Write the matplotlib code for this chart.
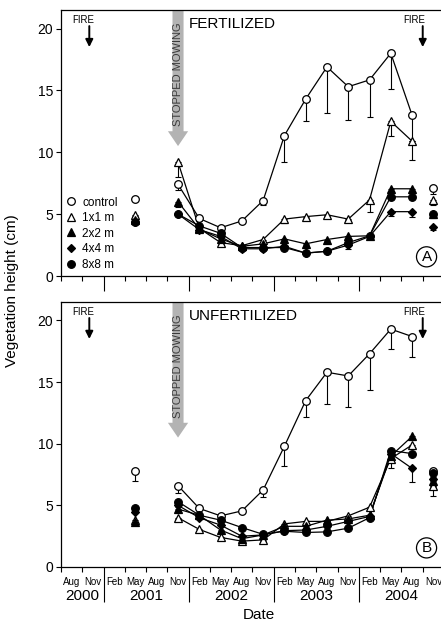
import matplotlib
matplotlib.use('Agg')
import matplotlib.pyplot as plt
import numpy as np
from matplotlib.lines import Line2D

plt.rcParams['font.family'] = ['Liberation Sans', 'DejaVu Sans']

# sampling dates (quarterly)
sample_dates = ['May 2001', 'Nov 2001', 'Feb 2002', 'May 2002', 'Aug 2002',
                'Nov 2002', 'Feb 2003', 'May 2003', 'Aug 2003', 'Nov 2003',
                'Feb 2004', 'May 2004', 'Aug 2004', 'Nov 2004']
axis_months = ['Aug', 'Nov'] + ['Feb', 'May', 'Aug', 'Nov'] * 4
axis_years = ['2000', '2001', '2002', '2003', '2004']

treatments = ['control', '1x1 m', '2x2 m', '4x4 m', '8x8 m']

# fertilized plots: mean height and lower error
fert_control = [6.25, 7.4, 4.65, 3.9, 4.45, 6.1, 11.35, 14.3, 16.9, 15.3, 15.85, 18.0, 13.0, 7.15]
fert_1x1 = [4.95, 9.2, 3.85, 2.7, 2.45, 2.95, 4.6, 4.8, 4.95, 4.6, 6.15, 12.5, 10.9, 6.15]
fert_2x2 = [4.5, 6.0, 3.8, 3.0, 2.4, 2.6, 3.0, 2.6, 2.95, 3.2, 3.25, 7.05, 7.05, 5.0]
fert_4x4 = [4.4, 5.0, 3.75, 3.2, 2.2, 2.2, 2.4, 1.85, 2.0, 2.5, 3.2, 5.2, 5.2, 4.0]
fert_8x8 = [4.35, 5.0, 4.05, 3.45, 2.3, 2.3, 2.3, 1.85, 2.0, 2.7, 3.25, 6.4, 6.4, 5.05]
fert_control_err = [0.1, 0.45, 0.2, 0.2, 0.15, 0.35, 2.1, 1.8, 3.7, 2.7, 3.0, 2.9, 2.1, 0.5]
fert_1x1_err = [0.1, 1.2, 0.2, 0.1, 0.1, 0.2, 0.35, 0.1, 0.1, 0.1, 1.0, 1.2, 1.5, 0.4]
fert_2x2_err = [0.1, 0.4, 0.2, 0.1, 0.1, 0.1, 0.1, 0.1, 0.1, 0.1, 0.1, 0.2, 0.2, 0.3]
fert_4x4_err = [0.1, 0.1, 0.2, 0.1, 0.1, 0.1, 0.1, 0.1, 0.1, 0.3, 0.1, 0.35, 0.4, 0.3]
fert_8x8_err = [0.1, 0.1, 0.1, 0.1, 0.1, 0.1, 0.1, 0.1, 0.1, 0.1, 0.1, 0.2, 0.2, 0.2]

# unfertilized plots
unfert_control = [7.8, 6.6, 4.75, 4.15, 4.55, 6.25, 9.8, 13.5, 15.8, 15.5, 17.3, 19.3, 18.7, 7.8]
unfert_1x1 = [3.8, 4.0, 3.05, 2.4, 2.1, 2.2, 3.5, 3.7, 3.7, 4.15, 4.85, 8.8, 9.9, 6.6]
unfert_2x2 = [3.65, 4.7, 4.2, 3.0, 2.3, 2.6, 3.3, 3.3, 3.8, 3.9, 4.2, 9.0, 10.6, 7.0]
unfert_4x4 = [4.5, 5.0, 4.0, 3.4, 2.5, 2.6, 2.95, 3.0, 3.3, 3.7, 4.1, 9.2, 8.0, 7.1]
unfert_8x8 = [4.75, 5.3, 4.2, 3.8, 3.2, 2.65, 2.9, 2.8, 2.85, 3.15, 4.0, 9.45, 9.2, 7.6]
unfert_control_err = [0.8, 0.6, 0.15, 0.1, 0.2, 0.55, 1.6, 1.3, 2.6, 2.5, 2.9, 1.6, 1.7, 0.3]
unfert_1x1_err = [0.2, 0.1, 0.2, 0.1, 0.1, 0.1, 0.1, 0.1, 0.1, 0.1, 0.2, 0.8, 0.3, 0.8]
unfert_2x2_err = [0.1, 0.1, 0.1, 0.1, 0.1, 0.1, 0.1, 0.1, 0.1, 0.1, 0.1, 0.3, 0.2, 0.4]
unfert_4x4_err = [0.1, 0.1, 0.1, 0.1, 0.1, 0.1, 0.1, 0.1, 0.1, 0.1, 0.1, 0.3, 1.1, 0.6]
unfert_8x8_err = [0.1, 0.1, 0.1, 0.1, 0.1, 0.1, 0.1, 0.1, 0.1, 0.1, 0.1, 0.2, 0.2, 0.3]

fert = [fert_control, fert_1x1, fert_2x2, fert_4x4, fert_8x8]
fert_err = [fert_control_err, fert_1x1_err, fert_2x2_err, fert_4x4_err, fert_8x8_err]
unfert = [unfert_control, unfert_1x1, unfert_2x2, unfert_4x4, unfert_8x8]
unfert_err = [unfert_control_err, unfert_1x1_err, unfert_2x2_err, unfert_4x4_err, unfert_8x8_err]

styles = [
    dict(marker='o', mfc='white', ms=5.5),
    dict(marker='^', mfc='white', ms=5.5),
    dict(marker='^', mfc='black', ms=5.5),
    dict(marker='D', mfc='black', ms=4.5),
    dict(marker='o', mfc='black', ms=5.5),
]

month_idx = {'Feb': 0, 'May': 1, 'Aug': 2, 'Nov': 3}


def quarter_pos(label):
    # x axis runs in quarters, 0 = start of Aug 2000
    m, y = label.split()
    return (int(y) - 2000) * 4 + month_idx[m] - 2 + 0.5


xs = np.array([quarter_pos(d) for d in sample_dates])
fire_x = [1.33, 17.0]
mowing_x = quarter_pos('Nov 2001')


def draw_panel(ax, series, errs, title, tag, big_tick):
    for vals, err, st in zip(series, errs, styles):
        vals = np.array(vals)
        err = np.array(err)
        ax.plot(xs[1:13], vals[1:13], color='black', lw=0.9, zorder=2)
        ax.errorbar(xs, vals, yerr=[err, np.zeros_like(err)], fmt='none',
                    ecolor='black', elinewidth=0.8, capsize=2, capthick=0.8,
                    zorder=3)
        ax.plot(xs, vals, ls='none', mec='black', mew=0.9, zorder=4, **st)

    ax.set_xlim(0, 18)
    ax.set_ylim(0, 21.5)
    ax.set_yticks([0, 5, 10, 15, 20])
    ax.tick_params(axis='y', direction='out', length=3.5, width=0.8,
                   labelsize=10, pad=2)
    ax.set_xticks(np.arange(2, 19, 4))
    ax.set_xticks(np.arange(0, 19, 1), minor=True)
    ax.tick_params(axis='x', which='major', direction='out', length=big_tick,
                   width=0.8, labelbottom=False)
    ax.tick_params(axis='x', which='minor', direction='out', length=3.5,
                   width=0.8)
    for sp in ax.spines.values():
        sp.set_linewidth(0.9)

    # stopped mowing arrow
    ax.arrow(mowing_x, 21.5, 0, 10.5 - 21.5, width=0.52, head_width=0.95,
             head_length=1.2, length_includes_head=True, color='#b3b3b3',
             lw=0, zorder=1)
    ax.text(mowing_x, 16.3, 'STOPPED MOWING', rotation=90, ha='center',
            va='center', fontsize=8, color='#3a3a3a', zorder=1.5)

    ax.text(6.0, 20.4, title, ha='left', va='center', fontsize=11)

    # fire events
    for fx, tx in zip(fire_x, [1.03, 16.6]):
        ax.text(tx, 20.7, 'FIRE', ha='center', va='center', fontsize=7)
        ax.annotate('', xy=(fx, 18.5), xytext=(fx, 20.2),
                    arrowprops=dict(arrowstyle='-|>', lw=1.4, color='black',
                                    mutation_scale=11, shrinkA=0, shrinkB=0))

    ax.text(17.18, 1.55, tag, ha='center', va='center', fontsize=11,
            bbox=dict(boxstyle='circle,pad=0.2', fc='white', ec='black',
                      lw=0.9))


fig = plt.figure(figsize=(4.41, 6.24), dpi=100)
ax1 = fig.add_axes([61 / 441, 1 - 276 / 624, 383 / 441, 266 / 624])
ax2 = fig.add_axes([61 / 441, 1 - 567 / 624, 383 / 441, 265 / 624])

draw_panel(ax1, fert, fert_err, 'FERTILIZED', 'A', 11)
draw_panel(ax2, unfert, unfert_err, 'UNFERTILIZED', 'B', 25)

handles = [Line2D([], [], ls='none', mec='black', mew=0.9, **st) for st in styles]
ax1.legend(handles, treatments, loc='lower left', bbox_to_anchor=(0.012, 0.02),
           frameon=False, fontsize=8.5, handlelength=1.0, handletextpad=0.4,
           labelspacing=0.3, borderpad=0, borderaxespad=0)

# month and year labels under the bottom panel
for i, m in enumerate(axis_months):
    ax2.annotate(m, xy=(i + 0.5, 0), xycoords=('data', 'axes fraction'),
                 xytext=(0, -11), textcoords='offset points', ha='center',
                 va='center', fontsize=7,
                 family=['Liberation Sans Narrow', 'Liberation Sans'])
for j, yr in enumerate(axis_years):
    ax2.annotate(yr, xy=(1 if j == 0 else 4 * j, 0),
                 xycoords=('data', 'axes fraction'), xytext=(0, -21),
                 textcoords='offset points', ha='center', va='center',
                 fontsize=11)

fig.text(259 / 441, 1 - 615 / 624, 'Date', ha='center', va='center', fontsize=11)
fig.text(12 / 441, 1 - 291 / 624, 'Vegetation height (cm)', rotation=90,
         ha='center', va='center', fontsize=11)

fig.savefig('out.png', dpi=100)
